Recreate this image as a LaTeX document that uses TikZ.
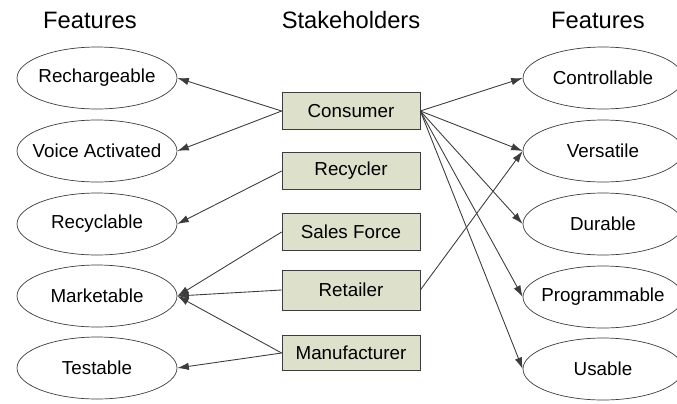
\documentclass[tikz,border=0pt]{standalone}
\usepackage{fontspec}
\setmainfont{Liberation Sans}
\usetikzlibrary{arrows.meta,shadows,shapes.geometric}
\definecolor{boxfill}{RGB}{221,224,203}
\definecolor{edge}{RGB}{60,60,60}
\tikzset{>={Latex[length=2.3mm,width=1.5mm]}}
\tikzset{
	feature/.style={draw=edge,ellipse,minimum width=3.2cm,minimum height=1.24cm,inner ysep=0pt,inner xsep=-1.4cm,font=\fontsize{10.7}{12}\selectfont},
	holder/.style={draw=edge,fill=boxfill,minimum width=2.76cm,minimum height=0.74cm,inner sep=0pt,font=\fontsize{10.7}{12}\selectfont,
		drop shadow={shadow xshift=0.4pt,shadow yshift=-0.4pt,fill=black!60,opacity=1}},
	heading/.style={font=\fontsize{13.5}{15}\selectfont},
	link/.style={->,draw=edge,line width=0.5pt}
}

\begin{document}
\begin{tikzpicture}[x=0.02cm,y=-0.02cm]
	\clip (0,0) rectangle (677,403);

	% column headings
	\node[heading] (hl) at (90,20) {Features};
	\node[heading] (hm) at (351,20) {Stakeholders};
	\node[heading] (hr) at (598,20) {Features};

	% left features
	\node[feature] (rech) at (97,78) {Rechargeable};
	\node[feature] (voice) at (97,151) {Voice Activated};
	\node[feature] (recy) at (97,224) {Recyclable};
	\node[feature] (mark) at (97,296) {Marketable};
	\node[feature] (test) at (97,368) {Testable};

	% stakeholders
	\node[holder] (cons) at (351,111) {Consumer};
	\node[holder] (recyc) at (351,171) {Recycler};
	\node[holder] (sales) at (351,232) {Sales Force};
	\node[holder,minimum height=0.8cm] (ret) at (351,290) {Retailer};
	\node[holder,minimum height=0.7cm] (manu) at (351,353) {Manufacturer};

	% right features
	\node[feature] (ctrl) at (603,78) {Controllable};
	\node[feature] (vers) at (603,151) {Versatile};
	\node[feature] (dur) at (603,224) {Durable};
	\node[feature] (prog) at (603,297) {Programmable};
	\node[feature] (usab) at (603,369) {Usable};

	\draw[link] (cons.west) -- (rech.east);
	\draw[link] (cons.west) -- (voice.east);
	\draw[link] (recyc.west) -- (recy.east);
	\draw[link] (sales.west) -- (mark.east);
	\draw[link] (ret.west) -- (mark.east);
	\draw[link] (manu.west) -- (mark.east);
	\draw[link] (manu.west) -- (test.east);

	\foreach \f in {ctrl,vers,dur,prog,usab}
		\draw[link] (cons.east) -- (\f.west);
	\draw[link] (ret.east) -- (vers.west);
\end{tikzpicture}
\end{document}
